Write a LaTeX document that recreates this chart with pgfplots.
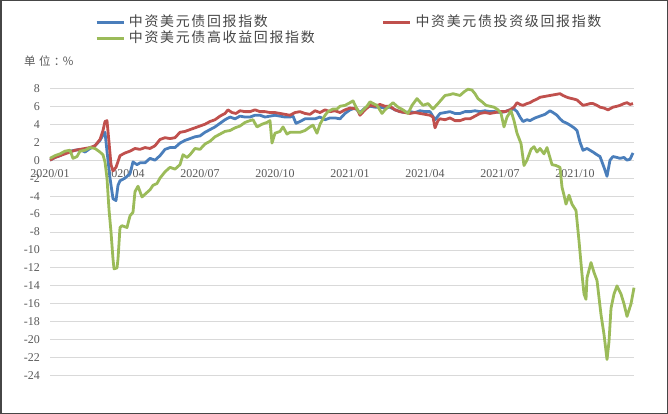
\documentclass[border=0pt]{standalone}
\usepackage{fontspec}
\usepackage{pgfplots}
\pgfplotsset{compat=1.18}
\setmainfont{Liberation Serif}
\newfontfamily\cjk[LetterSpace=12]{Noto Sans CJK SC}
\newfontfamily\cjkunit[LetterSpace=30]{Noto Sans CJK SC}
\definecolor{serblue}{RGB}{74,126,187}
\definecolor{serred}{RGB}{192,80,77}
\definecolor{sergreen}{RGB}{155,187,89}
\definecolor{gridgray}{RGB}{217,217,217}
\definecolor{ticktext}{RGB}{89,89,89}
\definecolor{legtext}{RGB}{70,70,70}
\definecolor{frame}{RGB}{70,70,70}

\begin{document}
\begin{tikzpicture}
\useasboundingbox (0,0) rectangle (668bp,414bp);
\draw[frame, line width=1.5bp] (0.75bp,0.75bp) rectangle (667.25bp,413.25bp);
\node[anchor=west, inner sep=0pt, text=ticktext] at (24bp,353bp)
  {\cjkunit\fontsize{11.5}{13}\selectfont 单位：\kern-2.5bp\%};
\begin{axis}[
  at={(50bp,38.3bp)}, anchor=south west,
  scale only axis, width=584bp, height=287.4bp,
  xmin=0, xmax=23.36, ymin=-24, ymax=8,
  axis x line=middle, axis y line=left,
  axis line style={draw=none},
  every inner x axis line/.append style={-},
  every outer y axis line/.append style={-},
  hide obscured x ticks=false, hide obscured y ticks=false,
  major tick length=0pt,
  xtick={0,3,6,9,12,15,18,21},
  xticklabels={2020/01,2020/04,2020/07,2020/10,2021/01,2021/04,2021/07,2021/10},
  ytick={-24,-22,...,8},
  ymajorgrids, grid style={draw=gridgray, line width=0.9bp},
  tick label style={font=\fontsize{12}{14}\selectfont, text=ticktext},
  /pgf/number format/assume math mode=true,
  xticklabel style={anchor=center, inner sep=0pt, yshift=-13bp},
  yticklabel style={anchor=east, inner sep=0pt, xshift=-10bp},
  clip=false,
  legend columns=2,
  legend cell align=left,
  legend image code/.code={\draw[#1, line width=2.8bp] (0bp,0bp) -- (27bp,0bp);},
  legend style={
    at={(0.077,1.2533)}, anchor=north west,
    draw=none, fill=none,
    inner xsep=0pt, inner ysep=0pt,
    row sep=3bp,
    nodes={inner sep=0pt, text height=11bp, text depth=2bp,
      font=\cjk\fontsize{14}{16}\selectfont, text=legtext},
    /tikz/every odd column/.append style={column sep=4bp},
    /tikz/every even column/.append style={column sep=67bp},
  },
]
\addplot[color=serblue, line width=2.8bp, mark=none, line join=round] coordinates {
(0,0)(0.2,0.3)(0.4,0.5)(0.6,0.8)(0.8,1.0)(1.0,1.1)(1.2,1.2)(1.4,0.9)(1.6,1.3)(1.8,1.6)
(2.0,2.2)(2.12,2.8)(2.2,3.1)(2.28,1.0)(2.4,-2.0)(2.52,-4.3)(2.64,-4.5)(2.72,-2.8)(2.8,-2.3)
(3.0,-2.0)(3.2,-1.5)(3.32,-0.2)(3.48,-0.5)(3.6,-0.3)(3.8,-0.3)(4.0,0.2)(4.2,0.0)(4.4,0.5)
(4.6,1.2)(4.8,1.4)(5.0,1.4)(5.2,1.9)(5.4,2.2)(5.6,2.4)(5.8,2.6)(6.0,2.7)(6.2,3.1)(6.4,3.4)
(6.6,3.7)(6.8,4.1)(7.0,4.5)(7.2,4.8)(7.4,4.6)(7.6,4.9)(7.8,4.8)(8.0,4.8)(8.2,5.0)(8.4,5.0)
(8.6,4.8)(8.8,4.9)(9.0,5.0)(9.2,4.9)(9.4,4.8)(9.6,4.8)(9.72,4.9)(9.84,4.1)(10.0,4.3)
(10.2,4.6)(10.4,4.6)(10.6,4.6)(10.8,4.8)(11.0,4.5)(11.2,4.7)(11.4,4.7)(11.6,4.6)(11.8,5.2)
(12.0,5.6)(12.2,5.8)(12.4,5.3)(12.6,5.8)(12.8,6.0)(13.0,5.9)(13.2,5.9)(13.4,5.8)(13.6,5.9)
(13.8,5.6)(14.0,5.4)(14.2,5.3)(14.4,5.4)(14.6,5.3)(14.8,5.5)(15.0,5.4)(15.2,5.4)(15.4,4.5)
(15.6,5.2)(15.8,5.3)(16.0,5.4)(16.2,5.2)(16.4,5.2)(16.6,5.4)(16.8,5.4)(17.0,5.5)(17.2,5.4)
(17.4,5.5)(17.6,5.4)(17.8,5.4)(18.0,5.3)(18.2,5.4)(18.4,5.6)(18.56,5.7)(18.68,5.4)(18.8,4.8)
(18.92,4.3)(19.08,4.5)(19.2,4.4)(19.4,4.7)(19.6,4.9)(19.8,5.1)(20.0,5.5)(20.12,5.3)(20.28,5.0)
(20.4,4.6)(20.52,4.3)(20.68,4.1)(20.8,3.9)(20.96,3.6)(21.08,3.3)(21.2,2.0)(21.32,1.1)
(21.48,1.3)(21.6,1.1)(21.72,0.9)(21.88,0.6)(22.0,0.4)(22.16,-0.8)(22.28,-1.8)(22.4,0.0)
(22.52,0.4)(22.68,0.3)(22.8,0.2)(22.96,0.3)(23.08,0.0)(23.2,0.1)(23.32,0.8)
};
\addlegendentry{中资美元债回报指数}
\addplot[color=serred, line width=2.8bp, mark=none, line join=round] coordinates {
(0,0)(0.2,0.3)(0.4,0.5)(0.6,0.7)(0.8,0.9)(1.0,1.1)(1.2,1.2)(1.4,1.3)(1.6,1.4)(1.8,1.6)
(2.0,2.3)(2.12,3.3)(2.2,4.3)(2.28,4.4)(2.36,2.0)(2.44,-0.5)(2.52,-1.2)(2.64,-0.8)(2.8,0.5)
(3.0,0.8)(3.2,1.0)(3.4,1.3)(3.6,1.2)(3.8,1.4)(4.0,1.3)(4.2,1.6)(4.4,2.3)(4.6,2.5)(4.8,2.4)
(5.0,2.5)(5.2,3.1)(5.4,3.2)(5.6,3.4)(5.8,3.6)(6.0,3.8)(6.2,4.0)(6.4,4.3)(6.6,4.5)(6.8,4.9)
(7.0,5.2)(7.12,5.6)(7.28,5.3)(7.44,5.2)(7.6,5.5)(7.8,5.4)(8.0,5.4)(8.2,5.6)(8.4,5.4)(8.6,5.4)
(8.8,5.3)(9.0,5.3)(9.2,5.2)(9.4,5.1)(9.6,5.0)(9.8,5.3)(10.0,5.4)(10.2,5.2)(10.4,5.1)
(10.6,5.5)(10.8,5.3)(11.0,5.6)(11.2,5.4)(11.4,5.5)(11.6,5.3)(11.8,5.6)(12.0,5.8)(12.28,5.7)
(12.4,5.0)(12.6,5.6)(12.8,6.1)(13.0,6.0)(13.2,6.2)(13.4,6.0)(13.6,6.0)(13.8,5.6)(14.0,5.4)
(14.2,5.3)(14.4,5.2)(14.6,5.3)(14.8,5.2)(15.0,5.1)(15.2,5.0)(15.32,4.8)(15.4,3.6)(15.52,4.4)
(15.6,4.6)(15.8,4.5)(16.0,4.7)(16.2,4.4)(16.4,4.4)(16.6,4.6)(16.8,4.6)(17.0,4.9)(17.2,5.2)
(17.4,5.3)(17.6,5.2)(17.8,5.3)(18.0,5.4)(18.2,5.4)(18.4,5.6)(18.56,5.9)(18.68,6.4)(18.8,6.2)
(18.92,6.1)(19.08,6.3)(19.2,6.4)(19.32,6.6)(19.48,6.8)(19.6,7.0)(19.8,7.1)(20.0,7.2)(20.2,7.3)
(20.4,7.4)(20.52,7.2)(20.68,7.0)(20.8,6.9)(20.96,6.8)(21.08,6.7)(21.2,6.4)(21.32,6.1)
(21.48,6.2)(21.6,6.3)(21.72,6.3)(21.88,6.1)(22.0,5.9)(22.16,5.8)(22.32,5.6)(22.52,5.9)
(22.68,6.0)(22.8,6.1)(22.96,6.3)(23.08,6.4)(23.2,6.2)(23.32,6.3)
};
\addlegendentry{中资美元债投资级回报指数}
\addplot[color=sergreen, line width=2.8bp, mark=none, line join=round] coordinates {
(0,0.2)(0.2,0.5)(0.4,0.7)(0.6,1.0)(0.8,1.1)(0.92,0.2)(1.08,0.4)(1.2,1.0)(1.4,1.1)(1.6,1.4)
(1.8,1.3)(2.0,0.9)(2.12,0.6)(2.2,-0.2)(2.28,-2.0)(2.36,-5.5)(2.44,-8.0)(2.52,-11.0)
(2.56,-12.1)(2.68,-12.0)(2.72,-11.0)(2.8,-7.5)(2.88,-7.3)(3.08,-7.5)(3.2,-6.2)(3.32,-5.8)
(3.4,-3.5)(3.52,-2.9)(3.68,-4.1)(3.8,-3.8)(4.0,-3.3)(4.12,-2.8)(4.28,-2.6)(4.4,-2.0)
(4.6,-1.3)(4.8,-0.8)(5.0,-1.0)(5.2,-0.5)(5.32,0.6)(5.48,0.3)(5.6,0.6)(5.8,1.3)(6.0,1.2)
(6.2,1.8)(6.4,2.1)(6.6,2.6)(6.8,2.9)(7.0,3.2)(7.2,3.3)(7.4,3.6)(7.6,3.8)(7.8,4.2)(8.0,4.4)
(8.12,4.5)(8.28,3.7)(8.48,4.0)(8.68,4.2)(8.8,4.4)(8.88,1.9)(9.0,3.0)(9.2,3.2)(9.32,3.7)
(9.48,2.9)(9.6,3.1)(9.8,3.1)(10.0,3.1)(10.2,3.3)(10.4,3.7)(10.52,3.9)(10.68,3.0)(10.8,4.0)
(10.88,4.4)(11.0,5.0)(11.12,5.4)(11.32,5.7)(11.48,5.7)(11.6,6.0)(11.8,6.1)(12.0,6.4)
(12.12,6.6)(12.28,5.7)(12.4,5.2)(12.6,5.8)(12.68,6.0)(12.8,6.5)(13.0,6.2)(13.08,6.1)
(13.28,5.2)(13.4,5.6)(13.52,5.9)(13.72,6.4)(13.92,5.9)(14.12,5.6)(14.32,5.2)(14.48,6.1)
(14.68,6.85)(14.92,6.1)(15.12,6.3)(15.32,5.7)(15.52,6.3)(15.8,7.2)(16.0,7.3)(16.12,7.4)
(16.4,7.2)(16.56,7.6)(16.72,7.9)(16.88,7.8)(17.0,7.4)(17.12,6.85)(17.28,6.5)(17.44,6.1)
(17.6,6.0)(17.76,5.9)(17.92,5.6)(18.04,5.2)(18.16,3.7)(18.28,4.8)(18.44,5.5)(18.56,4.4)
(18.68,3.0)(18.84,1.85)(18.96,-0.6)(19.08,0.0)(19.24,1.2)(19.36,1.5)(19.48,0.9)(19.6,1.3)
(19.76,0.7)(19.88,1.4)(20.08,-0.5)(20.24,-0.6)(20.4,-0.8)(20.48,-3.0)(20.56,-3.9)(20.64,-4.9)
(20.76,-3.9)(20.88,-4.9)(21.04,-5.6)(21.16,-9.0)(21.28,-12.7)(21.36,-14.9)(21.44,-15.5)
(21.48,-13.1)(21.64,-11.4)(21.76,-12.5)(21.88,-13.4)(22.04,-17.2)(22.16,-19.4)(22.28,-22.2)
(22.36,-20.2)(22.44,-16.5)(22.56,-14.9)(22.68,-14.0)(22.84,-14.9)(22.96,-16.0)(23.08,-17.4)
(23.24,-16.0)(23.36,-14.2)
};
\addlegendentry{中资美元债高收益回报指数}
\end{axis}
\end{tikzpicture}
\end{document}
